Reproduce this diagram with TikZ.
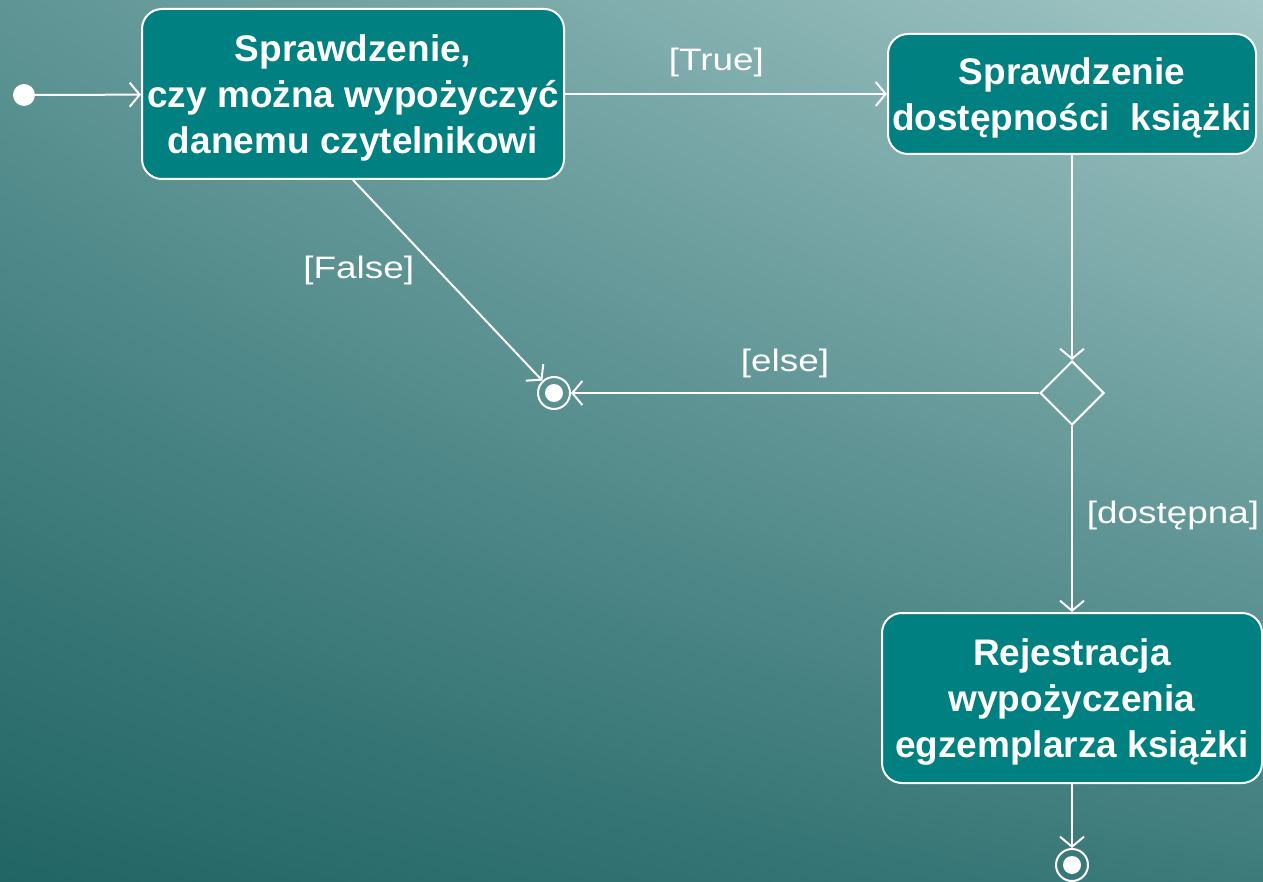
\documentclass[tikz,border=0pt]{standalone}
\usepackage{fontspec}
\setmainfont{Liberation Sans}
\newfontfamily\guardfont[FakeStretch=1.19]{Liberation Sans}
\usetikzlibrary{arrows.meta,shapes.geometric,shadings}
\definecolor{bgUL}{HTML}{5F9595}
\definecolor{bgUR}{HTML}{A3C6C6}
\definecolor{bgLL}{HTML}{226565}
\definecolor{bgLR}{HTML}{3D7B7B}
\definecolor{boxteal}{HTML}{008080}
\tikzset{
  actbox/.style={rectangle, rounded corners=20pt, fill=boxteal, draw=white, line width=2pt,
    text=white, font=\fontsize{37}{46}\selectfont\bfseries, align=center, inner sep=0pt},
  startdot/.style={circle, fill=white, minimum size=22pt, inner sep=0pt},
  enddot/.style={circle, draw=white, line width=2pt, minimum size=32pt, inner sep=0pt,
    path picture={\fill[white] (path picture bounding box.center) circle (9pt);}},
  decision/.style={diamond, draw=white, line width=2pt, minimum width=64pt, minimum height=64pt, inner sep=0pt},
  flow/.style={draw=white, line width=2pt, -{Straight Barb[length=10pt,width=24pt,line width=2pt]}},
  guard/.style={text=white, font=\guardfont\fontsize{31}{36}\selectfont}
}
\begin{document}
\begin{tikzpicture}[x=1pt,y=-1pt]
\useasboundingbox (0,0) rectangle (1263,882);
\shade[upper left=bgUL, upper right=bgUR, lower left=bgLL, lower right=bgLR] (0,0) rectangle (1263,882);

\node[startdot] (init) at (24,95) {};
\node[actbox, minimum width=422pt, minimum height=170pt] (check) at (353,94)
  {\rule{0pt}{34pt}Sprawdzenie,\\czy można wypożyczyć\\danemu czytelnikowi};
\node[actbox, minimum width=368pt, minimum height=120pt] (avail) at (1072,94)
  {\rule{0pt}{34pt}Sprawdzenie\\dostępności\ \ książki};
\node[decision] (dec) at (1072,393) {};
\node[enddot] (fin1) at (554,393) {};
\node[actbox, minimum width=380pt, minimum height=170pt] (reg) at (1072,698)
  {\rule{0pt}{34pt}Rejestracja\\wypożyczenia\\egzemplarza książki};
\node[enddot] (fin2) at (1072,865) {};

\draw[flow] (init) -- (check);
\draw[flow] (check.east) -- node[guard, pos=0.47, yshift=32pt] {[True]} (avail.west);
\draw[flow] (check.south) -- node[guard, xshift=-89pt, yshift=10pt] {[False]} (fin1);
\draw[flow] (avail.south) -- (dec.north);
\draw[flow] (dec.west) -- node[guard, xshift=-20pt, yshift=30pt] {[else]} (fin1);
\draw[flow] (dec.south) -- node[guard, xshift=101pt, yshift=4pt] {[dostępna]} (reg.north);
\draw[flow] (reg.south) -- (fin2);
\end{tikzpicture}
\end{document}
